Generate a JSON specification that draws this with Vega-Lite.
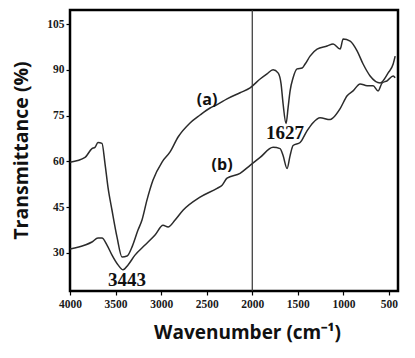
{
  "$schema": "https://vega.github.io/schema/vega-lite/v6.json",
  "width": 328,
  "height": 281,
  "autosize": "none",
  "padding": {"left": 70, "top": 10, "right": 17, "bottom": 67},
  "background": "white",
  "config": {
    "view": {"stroke": "#000", "strokeWidth": 2.5},
    "axis": {"grid": false, "domain": false}
  },
  "datasets": {
    "spectra": [
      {"s": "a", "w": 4000, "T": 59.7}, {"s": "a", "w": 3835, "T": 61.3}, {"s": "a", "w": 3759, "T": 64.2}, {"s": "a", "w": 3726, "T": 64.6}, {"s": "a", "w": 3693, "T": 66.2}, {"s": "a", "w": 3649, "T": 65.9}, {"s": "a", "w": 3616, "T": 59.3}, {"s": "a", "w": 3583, "T": 51.5}, {"s": "a", "w": 3539, "T": 44.0}, {"s": "a", "w": 3484, "T": 35.2}, {"s": "a", "w": 3429, "T": 28.7}, {"s": "a", "w": 3374, "T": 29.0}, {"s": "a", "w": 3319, "T": 32.0}, {"s": "a", "w": 3254, "T": 37.5}, {"s": "a", "w": 3210, "T": 40.8}, {"s": "a", "w": 3155, "T": 47.4}, {"s": "a", "w": 3089, "T": 53.9}, {"s": "a", "w": 2990, "T": 59.8}, {"s": "a", "w": 2902, "T": 63.1}, {"s": "a", "w": 2814, "T": 68.0}, {"s": "a", "w": 2683, "T": 72.6}, {"s": "a", "w": 2573, "T": 75.2}, {"s": "a", "w": 2463, "T": 77.5}, {"s": "a", "w": 2386, "T": 78.6}, {"s": "a", "w": 2277, "T": 80.5}, {"s": "a", "w": 2134, "T": 82.5}, {"s": "a", "w": 2024, "T": 84.1}, {"s": "a", "w": 1914, "T": 87.0}, {"s": "a", "w": 1838, "T": 88.7}, {"s": "a", "w": 1772, "T": 90.0}, {"s": "a", "w": 1717, "T": 89.0}, {"s": "a", "w": 1684, "T": 85.4}, {"s": "a", "w": 1662, "T": 78.9}, {"s": "a", "w": 1629, "T": 72.4}, {"s": "a", "w": 1607, "T": 77.6}, {"s": "a", "w": 1585, "T": 83.1}, {"s": "a", "w": 1552, "T": 87.4}, {"s": "a", "w": 1508, "T": 90.3}, {"s": "a", "w": 1453, "T": 90.6}, {"s": "a", "w": 1420, "T": 91.9}, {"s": "a", "w": 1366, "T": 94.5}, {"s": "a", "w": 1289, "T": 96.8}, {"s": "a", "w": 1179, "T": 97.8}, {"s": "a", "w": 1113, "T": 98.5}, {"s": "a", "w": 1036, "T": 96.8}, {"s": "a", "w": 1003, "T": 100.1}, {"s": "a", "w": 926, "T": 99.4}, {"s": "a", "w": 850, "T": 96.2}, {"s": "a", "w": 784, "T": 91.9}, {"s": "a", "w": 707, "T": 88.0}, {"s": "a", "w": 597, "T": 85.7}, {"s": "a", "w": 509, "T": 89.0}, {"s": "a", "w": 454, "T": 91.9}, {"s": "a", "w": 432, "T": 94.5},
      {"s": "b", "w": 4000, "T": 31.3}, {"s": "b", "w": 3835, "T": 32.6}, {"s": "b", "w": 3759, "T": 33.6}, {"s": "b", "w": 3693, "T": 34.9}, {"s": "b", "w": 3649, "T": 34.9}, {"s": "b", "w": 3594, "T": 32.6}, {"s": "b", "w": 3539, "T": 29.3}, {"s": "b", "w": 3473, "T": 26.1}, {"s": "b", "w": 3418, "T": 24.5}, {"s": "b", "w": 3363, "T": 26.1}, {"s": "b", "w": 3287, "T": 29.3}, {"s": "b", "w": 3177, "T": 32.6}, {"s": "b", "w": 3067, "T": 35.9}, {"s": "b", "w": 2979, "T": 39.1}, {"s": "b", "w": 2924, "T": 38.5}, {"s": "b", "w": 2847, "T": 40.8}, {"s": "b", "w": 2760, "T": 44.0}, {"s": "b", "w": 2573, "T": 48.3}, {"s": "b", "w": 2386, "T": 51.2}, {"s": "b", "w": 2331, "T": 52.2}, {"s": "b", "w": 2277, "T": 54.5}, {"s": "b", "w": 2134, "T": 56.1}, {"s": "b", "w": 2024, "T": 58.7}, {"s": "b", "w": 1914, "T": 61.3}, {"s": "b", "w": 1772, "T": 64.6}, {"s": "b", "w": 1695, "T": 64.2}, {"s": "b", "w": 1662, "T": 61.9}, {"s": "b", "w": 1618, "T": 57.7}, {"s": "b", "w": 1585, "T": 61.9}, {"s": "b", "w": 1552, "T": 65.2}, {"s": "b", "w": 1475, "T": 66.2}, {"s": "b", "w": 1398, "T": 70.1}, {"s": "b", "w": 1333, "T": 72.7}, {"s": "b", "w": 1256, "T": 74.3}, {"s": "b", "w": 1146, "T": 73.7}, {"s": "b", "w": 1113, "T": 74.3}, {"s": "b", "w": 1036, "T": 77.3}, {"s": "b", "w": 959, "T": 81.5}, {"s": "b", "w": 894, "T": 83.1}, {"s": "b", "w": 817, "T": 85.4}, {"s": "b", "w": 740, "T": 84.8}, {"s": "b", "w": 674, "T": 84.8}, {"s": "b", "w": 619, "T": 83.1}, {"s": "b", "w": 575, "T": 85.7}, {"s": "b", "w": 520, "T": 86.4}, {"s": "b", "w": 454, "T": 88.0}, {"s": "b", "w": 432, "T": 87.4}
    ],
    "marker": [{"w": 2000}],
    "labels": [
      {"w": 2496, "T": 80.1, "label": "(a)", "kind": "curve"},
      {"w": 2331, "T": 58.8, "label": "(b)", "kind": "curve"},
      {"w": 1640, "T": 69.3, "label": "1627", "kind": "peak"},
      {"w": 3374, "T": 21.3, "label": "3443", "kind": "peak"}
    ]
  },
  "layer": [
    {
      "data": {"name": "spectra"},
      "mark": {"type": "line", "color": "#2b2b2b", "strokeWidth": 1.5, "interpolate": "monotone"},
      "encoding": {
        "x": {
          "field": "w", "type": "quantitative",
          "scale": {"domain": [401, 4000], "reverse": true, "nice": false, "zero": false},
          "axis": {
            "values": [500, 1000, 1500, 2000, 2500, 3000, 3500, 4000],
            "format": "d",
            "title": "Wavenumber (cm⁻¹)",
            "titleFont": "Open Sans", "titleFontSize": 19, "titleFontWeight": "bold", "titleColor": "#111",
            "titleX": 177, "titleY": 47, "titleBaseline": "alphabetic", "titleAlign": "center",
            "labelFont": "Liberation Serif", "labelFontSize": 11.5, "labelFontWeight": "bold", "labelColor": "#1a1a1a",
            "labelPadding": 3, "tickColor": "#000", "tickWidth": 1.2, "labelOverlap": false, "labelFlush": false,
            "tickSize": 4
          }
        },
        "y": {
          "field": "T", "type": "quantitative",
          "scale": {"domain": [17.55, 109.6], "nice": false, "zero": false},
          "axis": {
            "values": [30, 45, 60, 75, 90, 105],
            "title": "Transmittance (%)",
            "titleFont": "Open Sans", "titleFontSize": 19.5, "titleFontWeight": "bold", "titleColor": "#111",
            "titleX": -49, "titleY": 140, "titleBaseline": "middle", "titleAngle": -90, "titleAlign": "center",
            "labelFont": "Liberation Serif", "labelFontSize": 11.5, "labelFontWeight": "bold", "labelColor": "#1a1a1a",
            "labelPadding": 2, "tickSize": 4, "tickColor": "#000", "tickWidth": 1.2
          }
        },
        "detail": {"field": "s"}
      }
    },
    {
      "data": {"name": "marker"},
      "mark": {"type": "rule", "color": "#333", "strokeWidth": 1.2},
      "encoding": {
        "x": {"field": "w", "type": "quantitative"}
      }
    },
    {
      "data": {"name": "labels"},
      "transform": [{"filter": "datum.kind === 'curve'"}],
      "mark": {"type": "text", "font": "Open Sans", "fontSize": 16, "fontWeight": "bold", "color": "#111", "baseline": "middle", "align": "center"},
      "encoding": {
        "x": {"field": "w", "type": "quantitative"},
        "y": {"field": "T", "type": "quantitative"},
        "text": {"field": "label"}
      }
    },
    {
      "data": {"name": "labels"},
      "transform": [{"filter": "datum.kind === 'peak'"}],
      "mark": {"type": "text", "font": "Liberation Serif", "fontSize": 19, "fontWeight": "bold", "color": "#111", "baseline": "middle", "align": "center"},
      "encoding": {
        "x": {"field": "w", "type": "quantitative"},
        "y": {"field": "T", "type": "quantitative"},
        "text": {"field": "label"}
      }
    }
  ]
}
